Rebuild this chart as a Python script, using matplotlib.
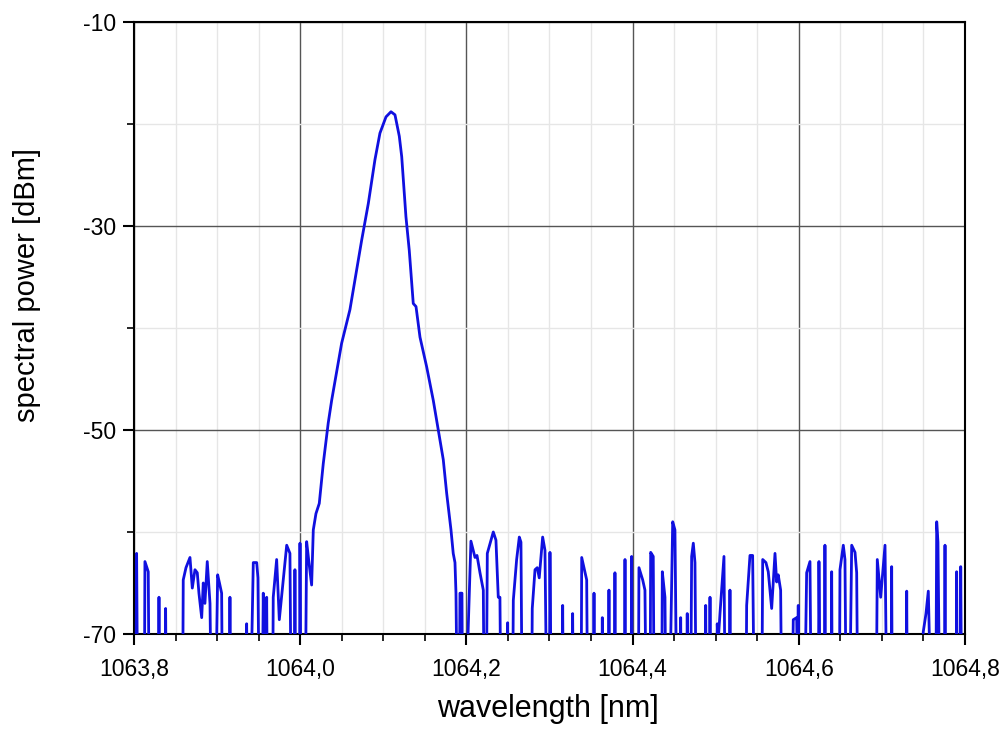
import matplotlib
matplotlib.use("Agg")
import matplotlib.pyplot as plt
from matplotlib.ticker import MultipleLocator, FuncFormatter

# spectrum; -75 marks points that dip below the -70 floor
wavelength = [
    1063.8000, 1063.8024, 1063.8032, 1063.8042, 1063.8126, 1063.8132, 1063.8156, 1063.8172, 1063.8181,
    1063.8295, 1063.8301, 1063.8307, 1063.8375, 1063.8381, 1063.8387,
    1063.8587, 1063.8593, 1063.8626, 1063.8674, 1063.8702, 1063.8734, 1063.8762, 1063.8782, 1063.8815,
    1063.8834, 1063.8854, 1063.8882, 1063.8915, 1063.8927,
    1063.8987, 1063.9007, 1063.9029, 1063.9055, 1063.9063, 1063.9149, 1063.9155, 1063.9161,
    1063.9348, 1063.9356, 1063.9363, 1063.9408, 1063.9436, 1063.9477, 1063.9492, 1063.9504,
    1063.9546, 1063.9556, 1063.9570, 1063.9588, 1063.9597, 1063.9604,
    1063.9670, 1063.9676, 1063.9717, 1063.9749, 1063.9781, 1063.9838, 1063.9877, 1063.9889,
    1063.9931, 1063.9937, 1063.9944, 1063.9992, 1063.9998, 1064.0007,
    1064.0064, 1064.0078, 1064.0106, 1064.0138,
    # main line
    1064.0158, 1064.0190, 1064.0230, 1064.0278, 1064.0338, 1064.0379, 1064.0499, 1064.0599, 1064.0740,
    1064.0820, 1064.0900, 1064.0960, 1064.1033, 1064.1093, 1064.1141, 1064.1193, 1064.1222, 1064.1273,
    1064.1313, 1064.1349, 1064.1361, 1064.1394, 1064.1442, 1064.1522, 1064.1602, 1064.1662, 1064.1722,
    1064.1763, 1064.1815, 1064.1842, 1064.1863, 1064.1875, 1064.1887,
    1064.1917, 1064.1923, 1064.1947, 1064.1953,
    1064.2001, 1064.2055, 1064.2104, 1064.2128, 1064.2164, 1064.2204, 1064.2212,
    1064.2242, 1064.2252, 1064.2324, 1064.2356, 1064.2384, 1064.2404, 1064.2413,
    1064.2491, 1064.2497, 1064.2503,
    1064.2558, 1064.2565, 1064.2605, 1064.2637, 1064.2657, 1064.2669,
    1064.2787, 1064.2793, 1064.2826, 1064.2853, 1064.2877, 1064.2918, 1064.2946, 1064.2964,
    1064.3000, 1064.3006, 1064.3018, 1064.3153, 1064.3159, 1064.3165, 1064.3273, 1064.3279, 1064.3285,
    1064.3382, 1064.3388, 1064.3448, 1064.3457, 1064.3530, 1064.3536, 1064.3542,
    1064.3630, 1064.3636, 1064.3642, 1064.3710, 1064.3716, 1064.3722, 1064.3782, 1064.3788, 1064.3794,
    1064.3903, 1064.3909, 1064.3915, 1064.3983, 1064.3989, 1064.3995,
    1064.4071, 1064.4077, 1064.4122, 1064.4149, 1064.4161,
    1064.4212, 1064.4218, 1064.4249, 1064.4258,
    1064.4352, 1064.4358, 1064.4390, 1064.4399,
    1064.4450, 1064.4483, 1064.4510, 1064.4529,
    1064.4573, 1064.4579, 1064.4585, 1064.4652, 1064.4658, 1064.4665,
    1064.4701, 1064.4711, 1064.4731, 1064.4751, 1064.4763,
    1064.4874, 1064.4880, 1064.4886, 1064.4926, 1064.4932, 1064.4938,
    1064.5013, 1064.5019, 1064.5028, 1064.5052, 1064.5100, 1064.5112,
    1064.5166, 1064.5172, 1064.5178,
    1064.5367, 1064.5373, 1064.5413, 1064.5445, 1064.5461,
    1064.5557, 1064.5566, 1064.5605, 1064.5633, 1064.5674, 1064.5714, 1064.5734, 1064.5753, 1064.5782, 1064.5792,
    1064.5924, 1064.5934, 1064.5975, 1064.5985, 1064.5994, 1064.6000,
    1064.6075, 1064.6095, 1064.6135, 1064.6147,
    1064.6237, 1064.6243, 1064.6255, 1064.6309, 1064.6315, 1064.6322, 1064.6390, 1064.6396, 1064.6402,
    1064.6490, 1064.6496, 1064.6536, 1064.6556, 1064.6568,
    1064.6616, 1064.6637, 1064.6677, 1064.6697, 1064.6707,
    1064.6935, 1064.6945, 1064.6986, 1064.7038, 1064.7056,
    1064.7112, 1064.7118, 1064.7124, 1064.7293, 1064.7299, 1064.7305,
    1064.7489, 1064.7498, 1064.7531, 1064.7559, 1064.7585,
    1064.7651, 1064.7660, 1064.7675, 1064.7693, 1064.7754, 1064.7760, 1064.7766,
    1064.7894, 1064.7900, 1064.7906, 1064.7943, 1064.7949, 1064.7958, 1064.8000,
]

power = [
    -75, -75, -62.1, -75, -75, -62.9, -63.5, -63.9, -75,
    -75, -66.4, -75, -75, -67.5, -75,
    -75, -64.7, -63.5, -62.5, -65.5, -63.7, -64.0, -66.0, -68.4,
    -65.0, -67.0, -62.9, -67.0, -75,
    -75, -64.2, -65.0, -66.0, -75, -75, -66.4, -75,
    -75, -69.0, -75, -75, -63.0, -63.0, -64.5, -75,
    -75, -66.0, -75, -75, -66.4, -75,
    -75, -66.4, -62.7, -68.6, -66.0, -61.3, -62.1, -75,
    -75, -63.7, -75, -75, -61.1, -75,
    -75, -60.95, -63.0, -65.2,
    # main line
    -59.8, -58.2, -57.2, -53.3, -49.3, -47.1, -41.5, -38.2, -31.4,
    -27.8, -23.5, -20.9, -19.3, -18.8, -19.1, -21.2, -23.2, -29.1,
    -32.4, -36.3, -37.6, -37.9, -40.9, -43.8, -47.1, -50.0, -52.9,
    -56.2, -59.8, -62.1, -63.0, -66.0, -75,
    -75, -66.0, -66.0, -75,
    -75, -60.9, -62.5, -62.3, -64.0, -65.7, -75,
    -75, -62.1, -60.0, -60.8, -66.4, -66.4, -75,
    -75, -68.9, -75,
    -75, -66.7, -62.7, -60.5, -61.0, -75,
    -75, -67.5, -63.7, -63.5, -64.5, -60.5, -61.8, -75,
    -75, -62.0, -75, -75, -67.2, -75, -75, -68.0, -75,
    -75, -62.5, -64.7, -75, -75, -66.0, -75,
    -75, -68.4, -75, -75, -65.7, -75, -75, -64.0, -75,
    -75, -62.7, -75, -75, -62.4, -75,
    -75, -63.5, -64.7, -65.7, -75,
    -75, -62.0, -62.4, -75,
    -75, -63.9, -66.4, -75,
    -75, -59.0, -59.8, -75,
    -75, -68.4, -75, -75, -68.0, -75,
    -75, -62.4, -61.1, -63.0, -75,
    -75, -67.2, -75, -75, -66.4, -75,
    -75, -69.0, -71.0, -68.0, -62.4, -75,
    -75, -65.7, -75,
    -75, -67.2, -62.3, -62.3, -75,
    -75, -62.7, -63.0, -63.9, -67.5, -62.1, -64.9, -64.2, -65.7, -75,
    -75, -68.6, -68.4, -75, -67.2, -75,
    -75, -64.0, -62.9, -75,
    -75, -62.9, -75, -75, -61.3, -75, -75, -63.9, -75,
    -75, -63.7, -61.3, -62.7, -75,
    -75, -61.3, -62.0, -64.0, -75,
    -75, -62.7, -66.4, -61.3, -75,
    -75, -63.4, -75, -75, -65.8, -75,
    -75, -69.8, -68.0, -65.8, -75,
    -75, -59.0, -61.0, -75, -75, -61.3, -75,
    -75, -63.9, -75, -75, -63.4, -75, -75,
]

y_major = [-70, -50, -30, -10]
y_minor = [-60, -40, -20]

plt.rcParams['font.family'] = ['Liberation Sans', 'DejaVu Sans']

fig = plt.figure(figsize=(10.08, 7.33), dpi=100)
ax = fig.add_axes([0.1329, 0.1351, 0.8244, 0.8349])

ax.plot(wavelength, power, color='#1010e0', linewidth=2.0, zorder=3)

ax.set_xlim(1063.8, 1064.8)
ax.set_ylim(-70, -10)
ax.xaxis.set_major_locator(MultipleLocator(0.2))
ax.xaxis.set_minor_locator(MultipleLocator(0.05))
ax.set_yticks(y_major)
ax.set_yticks(y_minor, minor=True)
ax.xaxis.set_major_formatter(FuncFormatter(lambda v, p: ('%.1f' % v).replace('.', ',')))
ax.yaxis.set_major_formatter(FuncFormatter(lambda v, p: '%d' % round(v)))

ax.grid(which='major', color='#555555', linewidth=1.0, zorder=1)
ax.grid(which='minor', color='#e6e6e6', linewidth=1.0, zorder=0)
ax.set_axisbelow(True)

ax.tick_params(which='major', direction='out', length=8, width=1.5, labelsize=16.5)
ax.tick_params(axis='x', which='major', pad=9)
ax.tick_params(axis='y', which='major', pad=5)
ax.tick_params(which='minor', direction='out', length=5, width=1.2)
ax.tick_params(top=False, right=False)
for s in ax.spines.values():
    s.set_linewidth(1.5)

fig.text(548 / 1008, 1 - 709 / 733, 'wavelength [nm]', fontsize=22, ha='center', va='center')
fig.text(27 / 1008, 1 - 285 / 733, 'spectral power [dBm]', fontsize=21, rotation=90,
         ha='center', va='center')

fig.savefig('out.png', dpi=100)
